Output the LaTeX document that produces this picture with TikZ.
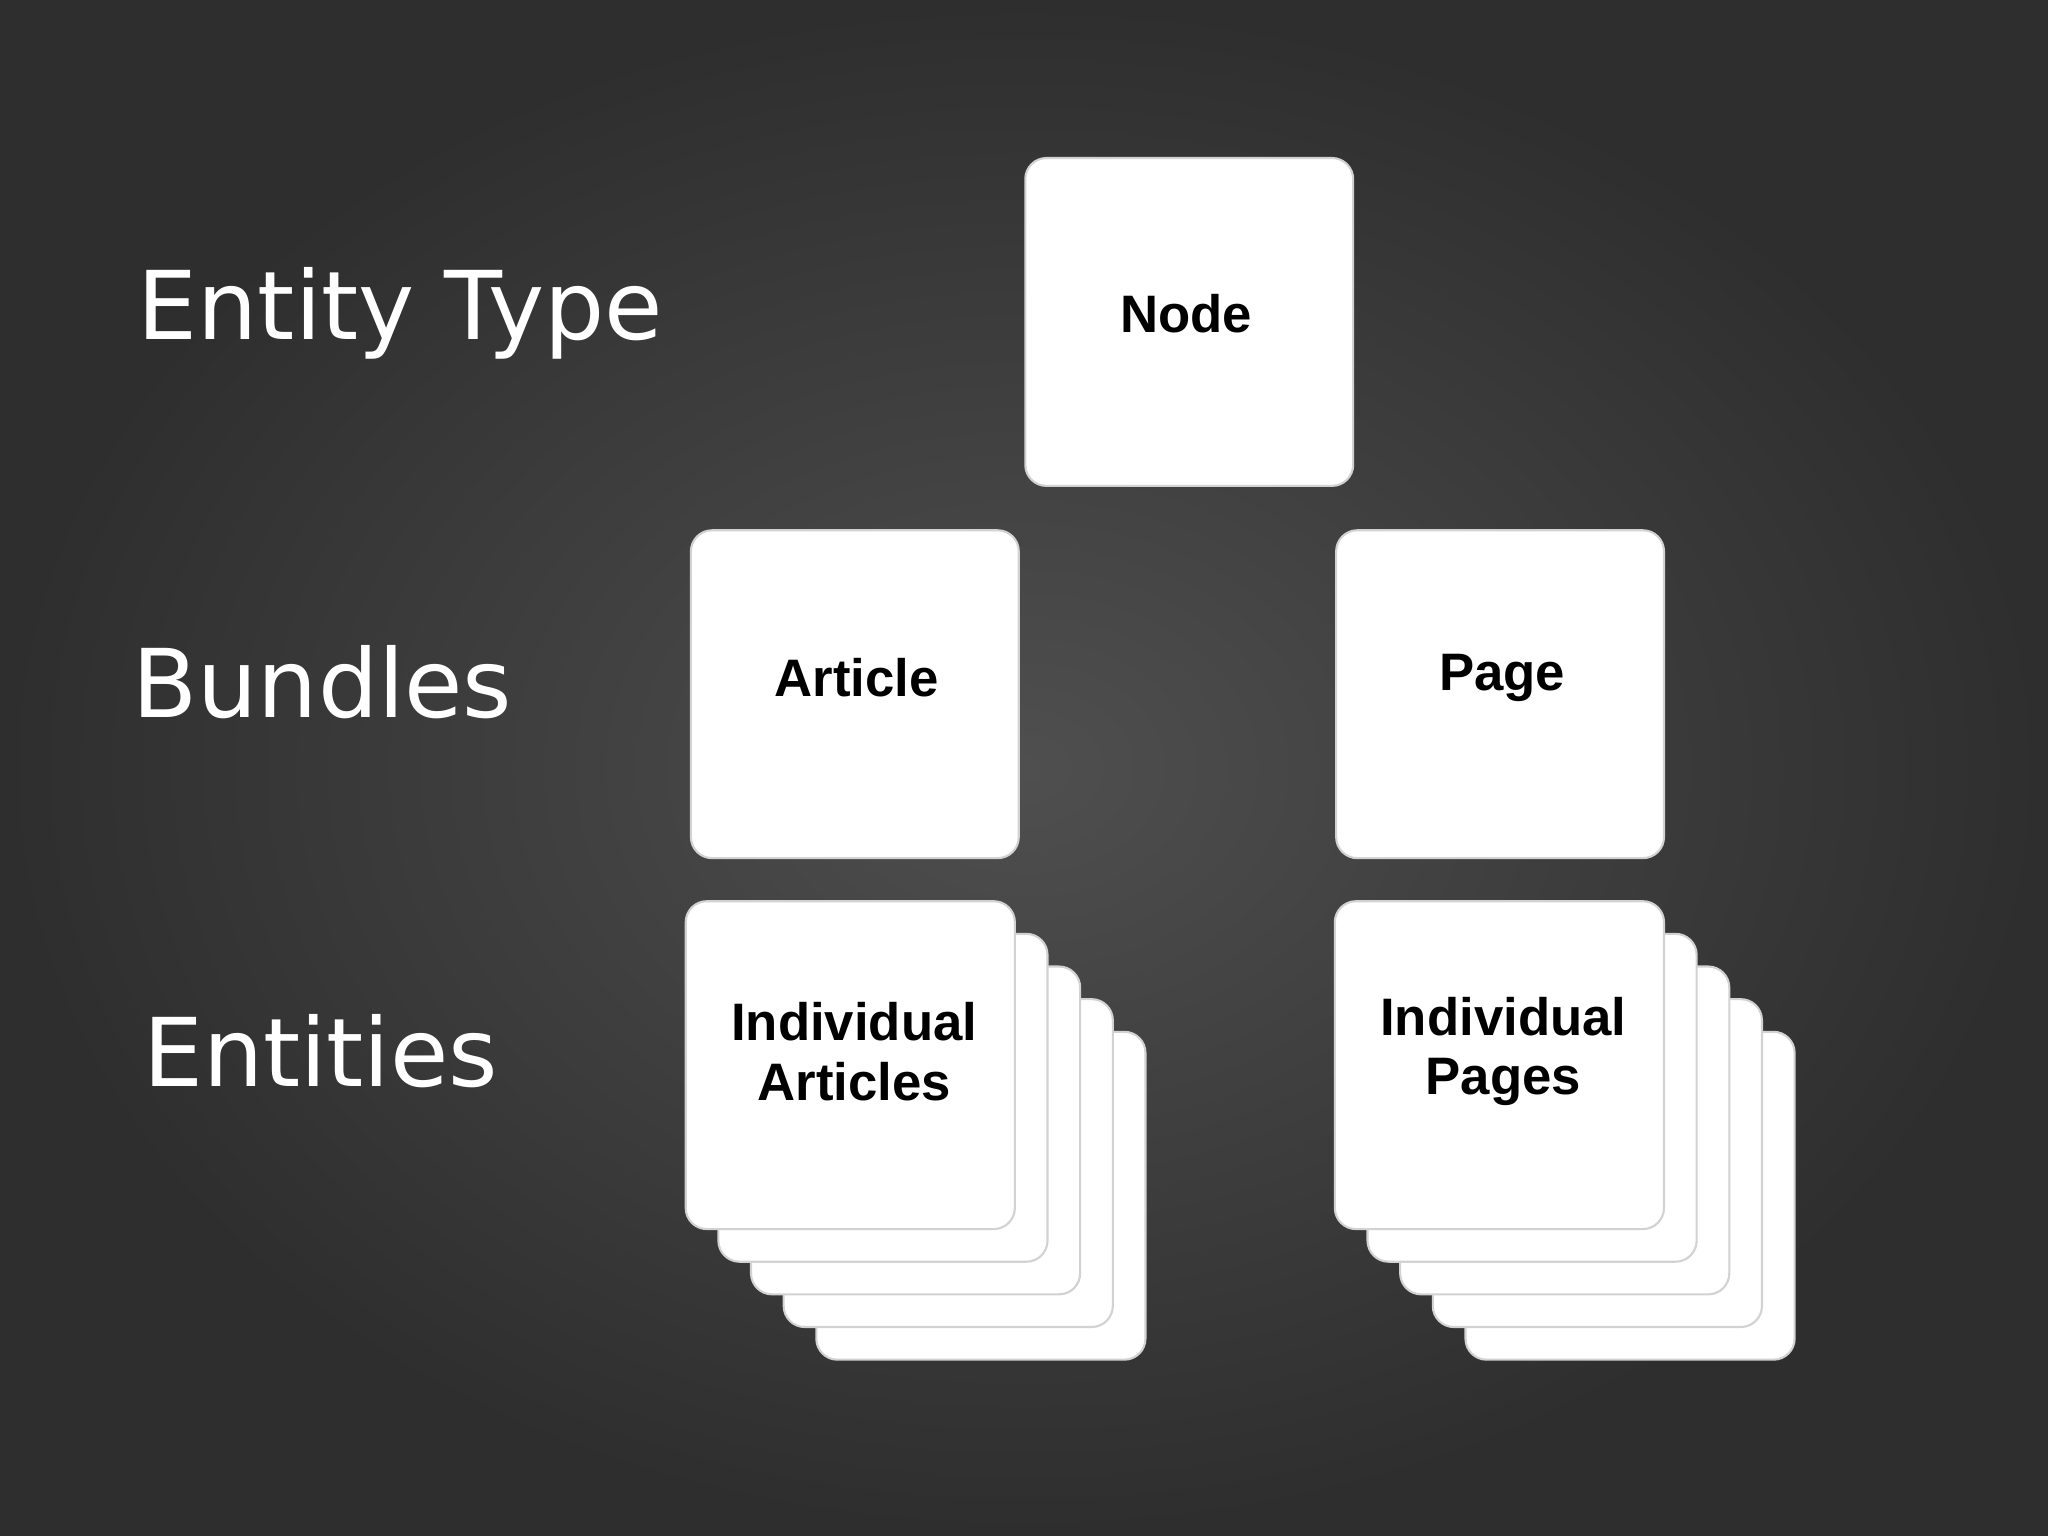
\documentclass[tikz,border=0pt]{standalone}
\usepackage{fontspec}
\setmainfont{DejaVu Sans}
\newfontfamily\boxfont{Liberation Sans}
\usetikzlibrary{positioning}
\tikzset{
  card/.style={draw=gray!35,fill=white,rounded corners=6pt,line width=0.6pt},
  cardtext/.style={font=\boxfont\bfseries\fontsize{15}{17}\selectfont,align=center,text=black},
  rowlabel/.style={font=\fontsize{27}{30}\selectfont,text=white,anchor=west}
}
\begin{document}
\begin{tikzpicture}[x=0.01306cm,y=-0.01306cm]
  \shade[inner color=gray!62!black,outer color=black!82,shading=radial] (0,0) rectangle (1568,1176);
  \useasboundingbox (0,0) rectangle (1568,1176);
  % row labels
  \node[rowlabel] (lbl-type) at (96,240) {Entity Type};
  \node[rowlabel] (lbl-bundle) at (92,522) {Bundles};
  \node[rowlabel] (lbl-entity) at (100,805) {Entities};
  % entity type and bundles
  \draw[card] (785,121) rectangle (1036,372);
  \node[cardtext] (node) at (908,240) {Node};
  \draw[card] (529,406) rectangle (780,657);
  \node[cardtext] (article) at (656,519) {Article};
  \draw[card] (1023,406) rectangle (1274,657);
  \node[cardtext] (page) at (1150,519) {Page};
  % stacks of entities, back to front
  \foreach \k in {4,3,2,1,0}{%
    \draw[card] (525+25*\k,690+25*\k) rectangle (777+25*\k,941+25*\k);
    \draw[card] (1022+25*\k,690+25*\k) rectangle (1274+25*\k,941+25*\k);
  }
  \node[cardtext] (articles) at (654,805) {Individual\\Articles};
  \node[cardtext] (pages) at (1151,805) {Individual\\Pages};
\end{tikzpicture}
\end{document}
